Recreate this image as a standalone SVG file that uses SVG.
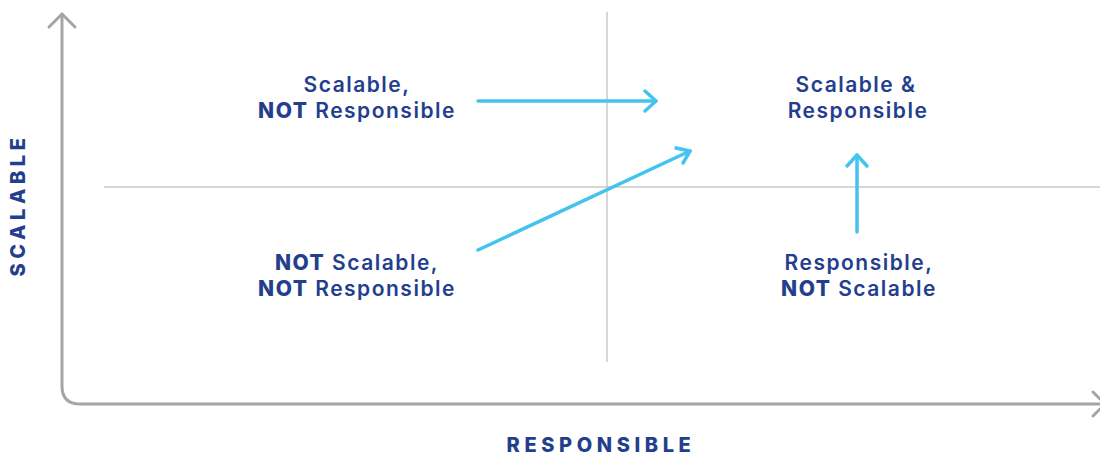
<svg xmlns="http://www.w3.org/2000/svg" width="1100" height="456" viewBox="0 0 1100 456">
  <defs>
    <style>
      .axis { fill: none; stroke: #a3a6a7; stroke-width: 3; stroke-linecap: round; stroke-linejoin: round; }
      .grid { fill: none; stroke: #c9c9c9; stroke-width: 1.5; }
      .flow { fill: none; stroke: #45c3ef; stroke-width: 3.5; stroke-linecap: round; stroke-linejoin: round; }
      .lbl { font-family: Inter, "Open Sans", "Liberation Sans", sans-serif; font-size: 21px; font-weight: 600; fill: #243e8e; text-anchor: middle; letter-spacing: 1.5px; }
      .lbl .b { font-weight: 800; }
      .title { font-family: Inter, "Open Sans", "Liberation Sans", sans-serif; font-size: 20px; font-weight: 800; fill: #243e8e; text-anchor: middle; letter-spacing: 4.6px; }
    </style>
  </defs>

  <!-- axes -->
  <g id="axes">
    <path class="axis" d="M62 14 V386 Q62 404 80 404 H1100"/>
    <path class="axis" d="M49 27 L62 14 L75 27"/>
    <path class="axis" d="M1093 392 L1100 399"/>
    <path class="axis" d="M1093 416 L1100 409"/>
  </g>

  <!-- quadrant dividers -->
  <g id="dividers">
    <line class="grid" x1="607" y1="12" x2="607" y2="362"/>
    <line class="grid" x1="104" y1="187" x2="1100" y2="187"/>
  </g>

  <!-- axis titles -->
  <text class="title" transform="translate(25 205) rotate(-90)">SCALABLE</text>
  <text class="title" x="601" y="452">RESPONSIBLE</text>

  <g id="q-top-left">
    <text class="lbl" x="357" y="92">Scalable,</text>
    <text class="lbl" x="357" y="118"><tspan class="b">NOT</tspan> Responsible</text>
  </g>

  <g id="q-top-right">
    <text class="lbl" x="856" y="92">Scalable &amp;</text>
    <text class="lbl" x="858" y="118">Responsible</text>
  </g>

  <g id="q-bottom-left">
    <text class="lbl" x="357" y="270"><tspan class="b">NOT</tspan> Scalable,</text>
    <text class="lbl" x="357" y="296"><tspan class="b">NOT</tspan> Responsible</text>
  </g>

  <g id="q-bottom-right">
    <text class="lbl" x="859" y="270">Responsible,</text>
    <text class="lbl" x="859" y="296"><tspan class="b">NOT</tspan> Scalable</text>
  </g>

  <!-- transition arrows -->
  <g id="connectors">
    <path class="flow" d="M478 101 H656"/>
    <path class="flow" d="M645 91 L656 101 L645 111"/>
    <path class="flow" d="M478 250 L690 151"/>
    <path class="flow" d="M676 148 L690 151 L683 163"/>
    <path class="flow" d="M857 232 V155"/>
    <path class="flow" d="M847 166 L857 155 L867 166"/>
  </g>
</svg>
